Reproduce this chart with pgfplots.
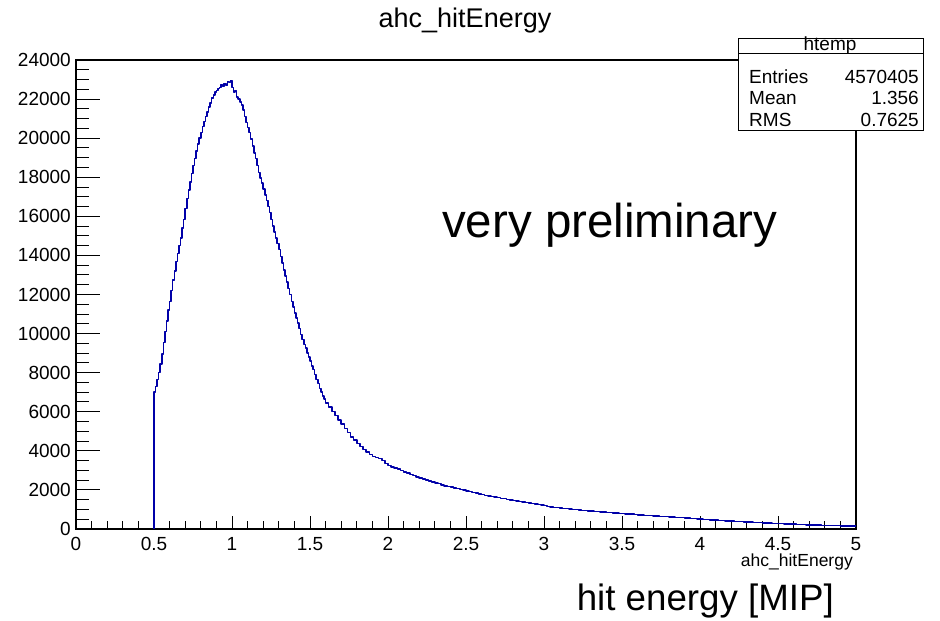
\documentclass[border=0pt]{standalone}
\usepackage{fontspec}
\setmainfont{Liberation Sans}
\usepackage{pgfplots}
\pgfplotsset{compat=1.18}
\definecolor{histblue}{rgb}{0.0,0.0,0.66}

\begin{document}
\begin{tikzpicture}
\useasboundingbox (0,0) rectangle (940pt,621pt);
\begin{axis}[
    at={(76pt,92pt)}, anchor=south west,
    scale only axis, width=780pt, height=469pt,
    xmin=0, xmax=5, ymin=0, ymax=24000,
    xtick={0,0.5,...,5}, minor x tick num=4,
    % short y ticks every 500, long labelled ones every 2000
    ytick={0,500,...,24000}, yticklabels={},
    extra y ticks={0,2000,...,24000},
    extra y tick style={major tick length=24pt},
    tick align=inside, tick pos=left,
    major tick length=12.5pt, minor tick length=7.5pt,
    every tick/.style={black, line width=1pt},
    axis line style={line width=1.1pt},
    scaled y ticks=false,
    /pgf/number format/set thousands separator={},
    /pgf/number format/assume math mode=true,
    tick label style={font=\fontsize{19}{22}\selectfont},
    xticklabel style={inner sep=0pt, yshift=-8pt},
    yticklabel style={inner sep=0pt, xshift=-5pt},
]
\addplot[const plot, histblue, line width=1.5pt, line join=round] coordinates {
(0.50,0) (0.50,7000) (0.51,7300) (0.52,7650) (0.53,8000) (0.54,8450)
(0.55,8950) (0.56,9550) (0.57,10100) (0.58,10650) (0.59,11200)
(0.60,11650) (0.61,12200) (0.62,12750) (0.63,13200) (0.64,13700)
(0.65,14100) (0.66,14500) (0.67,14900) (0.68,15400) (0.69,15850)
(0.70,16400) (0.71,16900) (0.72,17350) (0.73,17750) (0.74,18200)
(0.75,18600) (0.76,18950) (0.77,19350) (0.78,19700) (0.79,20000)
(0.80,20300) (0.81,20600) (0.82,20850) (0.83,21100) (0.84,21350)
(0.85,21600) (0.86,21800) (0.87,22050) (0.88,22200) (0.89,22350)
(0.90,22450) (0.91,22550) (0.92,22600) (0.93,22750) (0.94,22650)
(0.95,22800) (0.96,22700) (0.97,22900) (0.98,22850) (0.99,22950)
(1.00,22600) (1.01,22350) (1.02,22450) (1.03,22100) (1.04,22000)
(1.05,21850) (1.06,21700) (1.07,21450) (1.08,21100) (1.09,20800)
(1.10,20550) (1.11,20300) (1.12,19950) (1.13,19600) (1.14,19250)
(1.15,18950) (1.16,18600) (1.17,18250) (1.18,17950) (1.19,17700)
(1.20,17400) (1.21,17100) (1.22,16800) (1.23,16500) (1.24,16200)
(1.25,15850) (1.26,15500) (1.27,15200) (1.28,14900) (1.29,14600)
(1.30,14300) (1.31,13950) (1.32,13600) (1.33,13250) (1.34,12950)
(1.35,12650) (1.36,12300) (1.37,12000) (1.38,11650) (1.39,11350)
(1.40,11050) (1.41,10800) (1.42,10550) (1.43,10250) (1.44,9950)
(1.45,9700) (1.46,9450) (1.47,9250) (1.48,9000) (1.49,8800)
(1.50,8600) (1.51,8350) (1.52,8150) (1.53,7900) (1.54,7650)
(1.55,7450) (1.56,7200) (1.57,7000) (1.58,6800) (1.59,6650)
(1.60,6450) (1.62,6250) (1.64,6000) (1.66,5800) (1.68,5580)
(1.70,5380) (1.72,5150) (1.74,4930) (1.76,4720) (1.78,4550)
(1.80,4380) (1.82,4220) (1.84,4080) (1.86,3950) (1.88,3820)
(1.90,3720) (1.92,3650) (1.94,3600) (1.96,3500) (1.98,3350)
(2.00,3250) (2.02,3180) (2.04,3110) (2.06,3060) (2.08,3000)
(2.10,2920) (2.12,2860) (2.14,2800) (2.16,2730) (2.18,2660)
(2.20,2610) (2.22,2560) (2.24,2500) (2.26,2450) (2.28,2400)
(2.30,2360) (2.32,2320) (2.34,2260) (2.36,2210) (2.38,2170)
(2.40,2140) (2.42,2100) (2.44,2060) (2.46,2020) (2.48,1990)
(2.50,1950) (2.52,1910) (2.54,1870) (2.56,1840) (2.58,1800)
(2.60,1760) (2.62,1720) (2.64,1700) (2.66,1670) (2.68,1640)
(2.70,1610) (2.72,1570) (2.74,1550) (2.76,1520) (2.78,1490)
(2.80,1460) (2.82,1440) (2.84,1410) (2.86,1390) (2.88,1360)
(2.90,1340) (2.92,1310) (2.94,1280) (2.96,1250) (2.98,1230)
(3.00,1200) (3.02,1160) (3.04,1130) (3.06,1110) (3.08,1090)
(3.10,1070) (3.12,1055) (3.14,1040) (3.16,1020) (3.18,1005)
(3.20,985) (3.22,970) (3.24,955) (3.26,945) (3.28,930)
(3.30,920) (3.32,900) (3.34,885) (3.36,870) (3.38,860)
(3.40,850) (3.42,835) (3.44,825) (3.46,810) (3.48,800)
(3.50,790) (3.52,780) (3.54,765) (3.56,755) (3.58,735)
(3.60,720) (3.62,710) (3.64,695) (3.66,685) (3.68,680)
(3.70,670) (3.72,660) (3.74,645) (3.76,635) (3.78,630)
(3.80,625) (3.82,610) (3.84,600) (3.86,590) (3.88,580)
(3.90,570) (3.92,555) (3.94,545) (3.96,530) (3.98,515)
(4.00,505) (4.02,495) (4.04,480) (4.06,470) (4.08,460)
(4.10,450) (4.12,440) (4.14,425) (4.16,415) (4.18,410)
(4.20,400) (4.22,390) (4.24,385) (4.26,375) (4.28,365)
(4.30,360) (4.32,350) (4.34,340) (4.36,330) (4.38,320)
(4.40,310) (4.42,305) (4.44,295) (4.46,290) (4.48,280)
(4.50,275) (4.52,270) (4.54,262) (4.56,258) (4.58,255)
(4.60,245) (4.62,238) (4.64,230) (4.66,222) (4.68,215)
(4.70,208) (4.72,202) (4.74,198) (4.76,193) (4.78,190)
(4.80,186) (4.82,182) (4.84,178) (4.86,173) (4.88,168)
(4.90,165) (4.92,160) (4.94,158) (4.96,155) (4.98,152)
(5.00,152)
};
\end{axis}
% title and axis title
\node[anchor=base, font=\fontsize{27}{30}\selectfont] at (465pt,593pt) {ahc\_hitEnergy};
\node[anchor=base east, inner sep=0pt, font=\fontsize{17.5}{20}\selectfont] at (853pt,54pt) {ahc\_hitEnergy};
% stats box
\filldraw[fill=white, draw=black, line width=1pt] (738pt,490pt) rectangle (923pt,582pt);
\draw[line width=1pt] (738pt,567.5pt) -- (923pt,567.5pt);
\begin{scope}[every node/.style={inner sep=0pt, font=\fontsize{19}{22}\selectfont}]
\node[anchor=base] at (830pt,570.5pt) {htemp};
\node[anchor=base west] at (749pt,537.7pt) {Entries};
\node[anchor=base west] at (749pt,516pt) {Mean};
\node[anchor=base west] at (749pt,494.3pt) {RMS};
\node[anchor=base east] at (919pt,537.7pt) {4570405};
\node[anchor=base east] at (919pt,516pt) {1.356};
\node[anchor=base east] at (919pt,494.3pt) {0.7625};
\end{scope}
% annotations
\node[anchor=base west, inner sep=0pt, font=\fontsize{47.5}{50}\selectfont] at (442pt,383pt) {very preliminary};
\node[anchor=base east, inner sep=0pt, font=\fontsize{36.7}{40}\selectfont] at (834pt,10pt) {hit energy [MIP]};
\end{tikzpicture}
\end{document}
